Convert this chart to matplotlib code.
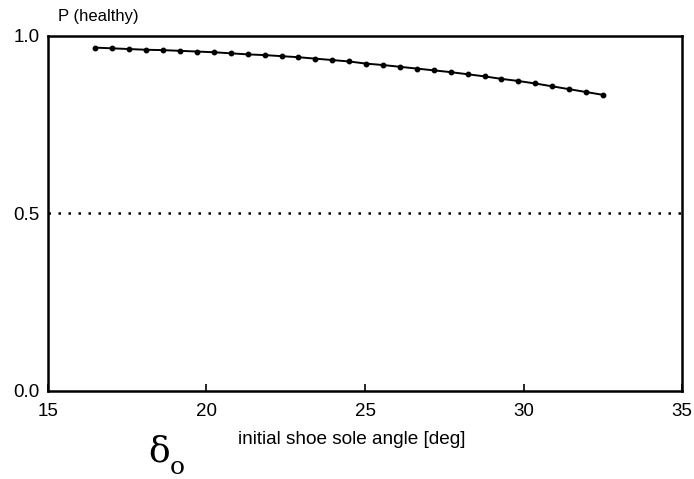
import numpy as np
import matplotlib
matplotlib.use("Agg")
import matplotlib.pyplot as plt

# Data
angle = np.linspace(16.5, 32.5, 31)
p_healthy = [0.967, 0.965, 0.963, 0.961, 0.960, 0.958, 0.956, 0.954, 0.951, 0.948,
             0.946, 0.943, 0.940, 0.936, 0.932, 0.928, 0.922, 0.918, 0.913, 0.908,
             0.903, 0.898, 0.892, 0.886, 0.879, 0.873, 0.866, 0.858, 0.850, 0.842,
             0.834]
threshold = 0.5
x_ticks = [15, 20, 25, 30, 35]
y_ticks = [0.0, 0.5, 1.0]

plt.rcParams['font.family'] = ['Liberation Sans', 'DejaVu Sans']

fig = plt.figure(figsize=(6.94, 4.79), dpi=100)
ax = fig.add_axes([0.069, 0.184, 0.914, 0.741])

ax.plot(angle, p_healthy, color='black', lw=1.4, marker='o', ms=3.2)
ax.axhline(threshold, color='black', lw=1.8, ls=(0, (1, 3)))

ax.set_xlim(15, 35)
ax.set_ylim(0, 1)
ax.set_xticks(x_ticks)
ax.set_yticks(y_ticks)
ax.set_xticklabels([str(t) for t in x_ticks], fontsize=13.5)
ax.set_yticklabels(['0.0', '0.5', '1.0'], fontsize=13.5)
ax.tick_params(axis='x', direction='in', length=5, width=1.2, pad=9)
ax.tick_params(axis='y', length=0, pad=6)
for s in ax.spines.values():
    s.set_linewidth(1.8)

fig.text(58 / 694, 1 - 17 / 479, 'P (healthy)', fontsize=12, ha='left', va='center')
fig.text(352 / 694, 1 - 440 / 479, 'initial shoe sole angle [deg]', fontsize=13.7,
         ha='center', va='center')
fig.text(159 / 694, 1 - 452 / 479, 'δ', fontsize=26, family='DejaVu Serif',
         ha='center', va='center')
fig.text(177 / 694, 1 - 467 / 479, 'o', fontsize=18, family='DejaVu Serif',
         ha='center', va='center')

fig.savefig('out.png', dpi=100)
